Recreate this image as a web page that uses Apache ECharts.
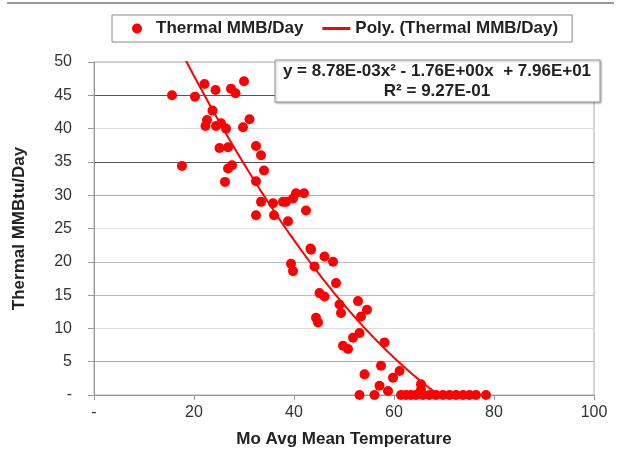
<!DOCTYPE html>
<html>
<head>
<meta charset="utf-8">
<script src="https://cdn.jsdelivr.net/npm/echarts@6/dist/echarts.min.js"></script>
<style>html,body{margin:0;padding:0;background:#fff}#c{width:624px;height:453px}</style>
</head>
<body>
<div id="c"></div>
<script>
// Scatter data: [Mo Avg Mean Temperature, Thermal MMBtu/Day]
const thermalPoints = [
  [15.6,45.0],[17.6,34.4],[20.2,44.8],[22.1,46.7],[24.3,45.8],[23.7,42.7],
  [22.3,40.4],[22.6,41.3],[24.4,40.4],[25.4,40.8],[26.4,40.0],[27.4,46.0],
  [28.3,45.3],[30.0,47.1],[29.8,40.2],[31.1,41.4],[25.1,37.1],[26.8,37.2],
  [26.8,34.0],[27.6,34.5],[26.2,32.0],[32.4,37.4],[33.4,36.0],[34.0,33.7],
  [32.4,32.1],[33.4,29.0],[32.4,27.0],[36.0,27.0],[35.8,28.8],[37.8,29.0],
  [38.4,29.0],[39.8,29.5],[40.4,30.3],[42.0,30.3],[42.4,27.7],[38.8,26.1],
  [43.3,22.0],[39.4,19.7],[39.8,18.6],[43.4,21.8],[44.1,19.3],[46.1,20.8],
  [47.8,20.0],[48.4,16.8],[45.1,15.3],[46.1,14.8],[49.1,13.6],[49.4,12.3],
  [52.8,14.1],[54.6,12.8],[53.4,11.8],[44.4,11.6],[44.8,10.9],[53.1,9.3],
  [51.8,8.6],[49.8,7.4],[50.8,6.9],[58.1,7.9],[57.4,4.4],[54.1,3.1],
  [61.1,3.6],[59.8,2.6],[57.1,1.4],[58.8,0.6],[53.1,0],[56.1,0],
  [65.4,1.6],[65.4,0.8],[61.4,0],[62.4,0],[63.4,0],[64.4,0],[65.8,0],
  [67.1,0],[68.4,0],[69.8,0],[71.1,0],[72.4,0],[73.8,0],[75.1,0],[76.4,0],[78.4,0]
];
// Printed trendline coefficients: y = a x^2 + b x + c
const polyCoefs = [8.78e-3, -1.76, 79.6];
const trendXs = [];
for (let x = 15.5; x <= 78.5; x += 0.5) trendXs.push(x);
const xTicks = ['-', '20', '40', '60', '80', '100'];
const yTicks = ['-', '5', '10', '15', '20', '25', '30', '35', '40', '45', '50'];
const equationText = 'y = 8.78E-03x\u00B2 - 1.76E+00x  + 7.96E+01';
const r2Text = 'R\u00B2 = 9.27E-01';

const trendData = trendXs.map(x => [x, polyCoefs[0]*x*x + polyCoefs[1]*x + polyCoefs[2]]);
const FONT = '"Liberation Sans", Arial, sans-serif';
const gridColors = ['#999','#aaa','#ddd','#bbb','#bbb','#ddd','#aaa','#555','#ddd','#555','#ccc'];

const chart = echarts.init(document.getElementById('c'), null, {renderer: 'canvas'});
chart.setOption({
  animation: false,
  backgroundColor: '#fff',
  grid: {left: 94, right: 30, top: 62, bottom: 57, containLabel: false,
    show: true, borderColor: '#aaa', borderWidth: 1},
  legend: {
    left: 112, top: 15,
    padding: [5, 14, 5, 20],
    borderColor: '#888', borderWidth: 1,
    itemWidth: 28, itemHeight: 10, itemGap: 19,
    textStyle: {fontFamily: FONT, fontWeight: 'bold', fontSize: 17, color: '#222'},
    data: [
      {name: 'Thermal MMB/Day', icon: 'circle'},
      {name: 'Poly. (Thermal MMB/Day)', icon: 'path://M0 0H28V3H0Z'}
    ]
  },
  xAxis: {
    type: 'value', min: 0, max: 100, interval: 20,
    name: 'Mo Avg Mean Temperature', nameLocation: 'middle', nameGap: 36,
    nameTextStyle: {fontFamily: FONT, fontWeight: 'bold', fontSize: 17, color: '#222'},
    axisLine: {show: true, lineStyle: {color: '#999', width: 1}},
    axisTick: {show: true, length: 5, lineStyle: {color: '#999'}},
    axisLabel: {fontFamily: FONT, fontSize: 16, color: '#333', margin: 10,
      formatter: v => xTicks[Math.round(v / 20)]},
    splitLine: {show: false}
  },
  yAxis: {
    type: 'value', min: 0, max: 50, interval: 5,
    name: 'Thermal MMBtu/Day', nameLocation: 'middle', nameGap: 66, nameRotate: 90,
    nameTextStyle: {fontFamily: FONT, fontWeight: 'bold', fontSize: 17, color: '#222'},
    axisLine: {show: true, lineStyle: {color: '#999', width: 1}},
    axisTick: {show: true, length: 6, lineStyle: {color: '#999'}},
    axisLabel: {fontFamily: FONT, fontSize: 16, color: '#333', margin: 22,
      formatter: v => yTicks[Math.round(v / 5)]},
    splitLine: {show: true, lineStyle: {color: gridColors, width: 1}}
  },
  series: [
    {
      name: 'Thermal MMB/Day', type: 'scatter', data: thermalPoints,
      symbol: 'circle', symbolSize: 10,
      itemStyle: {color: '#ff0000', opacity: 1}, z: 3
    },
    {
      name: 'Poly. (Thermal MMB/Day)', type: 'line', data: trendData,
      showSymbol: false, symbol: 'none', clip: true, smooth: false,
      lineStyle: {color: '#ff0000', width: 2}, itemStyle: {color: '#ff0000'}, z: 4
    }
  ],
  graphic: [
    {type: 'line', shape: {x1: 7, y1: 3, x2: 614, y2: 3}, style: {stroke: '#999', lineWidth: 2}},
    {type: 'rect', shape: {x: 275, y: 60, width: 325, height: 42},
      style: {fill: '#fff', stroke: '#999', lineWidth: 1, shadowBlur: 2, shadowColor: 'rgba(0,0,0,0.3)', shadowOffsetX: 1, shadowOffsetY: 1}, z: 100},
    {type: 'text', x: 437, y: 71, z: 101,
      style: {text: equationText, fontFamily: FONT, fontWeight: 'bold', fontSize: 17, fill: '#222', align: 'center', verticalAlign: 'middle'}},
    {type: 'text', x: 437, y: 91, z: 101,
      style: {text: r2Text, fontFamily: FONT, fontWeight: 'bold', fontSize: 17, fill: '#222', align: 'center', verticalAlign: 'middle'}}
  ]
});
</script>
</body>
</html>
